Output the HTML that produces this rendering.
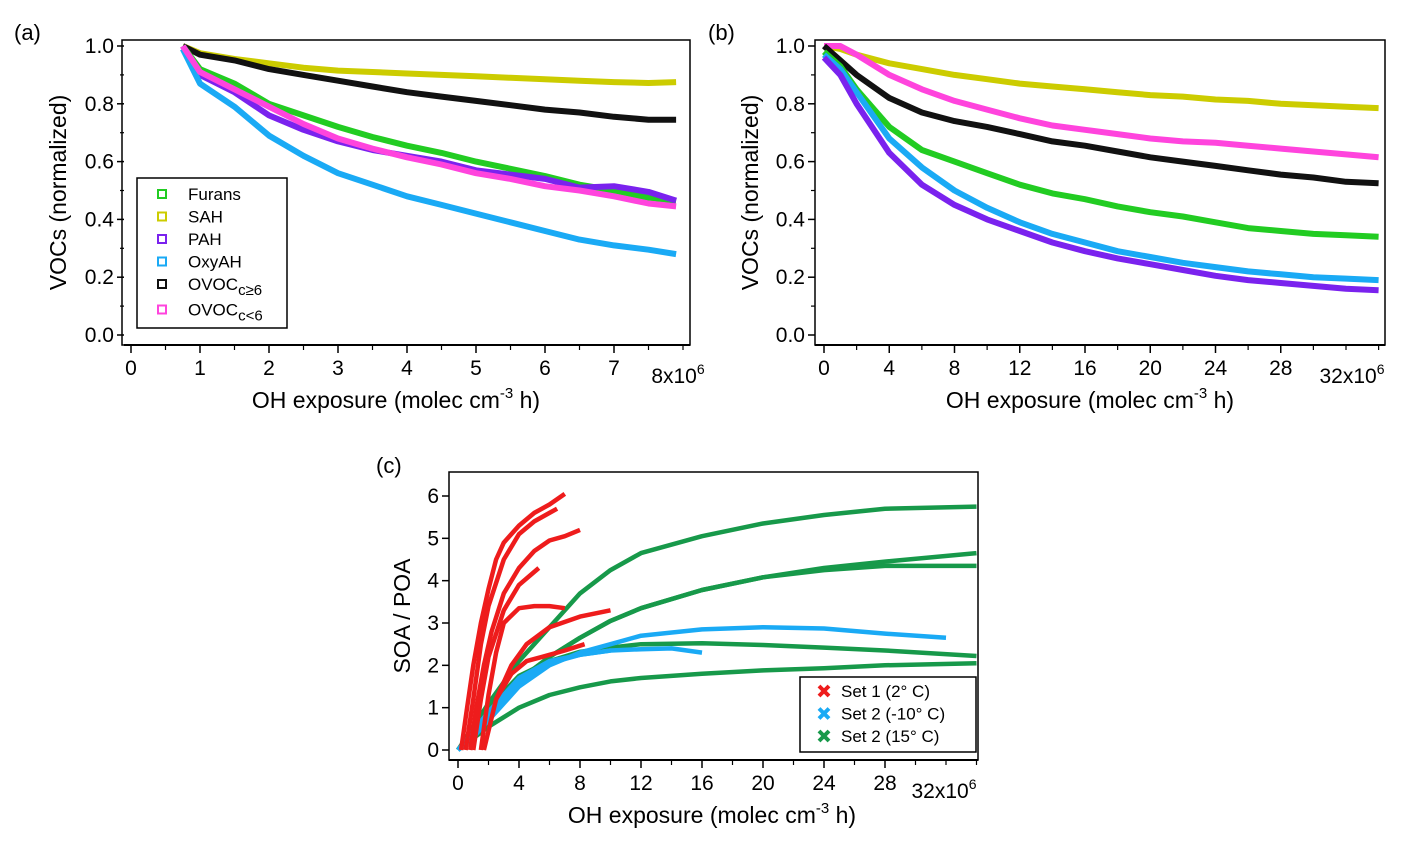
<!DOCTYPE html>
<html><head><meta charset="utf-8">
<style>
html,body{margin:0;padding:0;background:#fff;}
svg{display:block;font-family:"Liberation Sans",sans-serif;}
</style></head>
<body>
<svg id="s" width="1404" height="850" viewBox="0 0 1404 850"></svg>
<script>
// ---- Panel (a) data ----
const aX = [0.75,1,1.5,2,2.5,3,3.5,4,4.5,5,5.5,6,6.5,7,7.5,7.9];
const aFurans = [1,0.92,0.87,0.8,0.76,0.72,0.685,0.655,0.63,0.6,0.575,0.55,0.52,0.5,0.475,0.465];
const aSAH = [1,0.975,0.955,0.94,0.925,0.915,0.91,0.905,0.9,0.895,0.89,0.885,0.88,0.875,0.872,0.875];
const aPAH = [1,0.9,0.84,0.76,0.71,0.67,0.64,0.62,0.6,0.57,0.555,0.54,0.51,0.515,0.495,0.465];
const aOxyAH = [0.99,0.87,0.79,0.69,0.62,0.56,0.52,0.48,0.45,0.42,0.39,0.36,0.33,0.31,0.295,0.28];
const aOVOCge6 = [1,0.97,0.95,0.92,0.9,0.88,0.86,0.84,0.825,0.81,0.795,0.78,0.77,0.755,0.745,0.745];
const aOVOClt6 = [1,0.91,0.85,0.79,0.73,0.68,0.645,0.615,0.59,0.56,0.54,0.515,0.5,0.48,0.455,0.445];
const aXTicks = [0,1,2,3,4,5,6,7];
const yTicksVOC = [0,0.2,0.4,0.6,0.8,1.0];
// ---- Panel (b) data ----
const bX = [0,1,2,4,6,8,10,12,14,16,18,20,22,24,26,28,30,32,34];
const bSAH = [1,0.99,0.97,0.94,0.92,0.9,0.885,0.87,0.86,0.85,0.84,0.83,0.825,0.815,0.81,0.8,0.795,0.79,0.785];
const bOVOClt6 = [1,1,0.97,0.9,0.85,0.81,0.78,0.75,0.725,0.71,0.695,0.68,0.67,0.665,0.655,0.645,0.635,0.625,0.615];
const bOVOCge6 = [1,0.95,0.9,0.82,0.77,0.74,0.72,0.695,0.67,0.655,0.635,0.615,0.6,0.585,0.57,0.555,0.545,0.53,0.525];
const bFurans = [0.98,0.93,0.85,0.72,0.64,0.6,0.56,0.52,0.49,0.47,0.445,0.425,0.41,0.39,0.37,0.36,0.35,0.345,0.34];
const bOxyAH = [0.97,0.92,0.84,0.68,0.58,0.5,0.44,0.39,0.35,0.32,0.29,0.27,0.25,0.235,0.22,0.21,0.2,0.195,0.19];
const bPAH = [0.96,0.9,0.8,0.63,0.52,0.45,0.4,0.36,0.32,0.29,0.265,0.245,0.225,0.205,0.19,0.18,0.17,0.16,0.155];
const bXTicks = [0,4,8,12,16,20,24,28];
// ---- Panel (c) data ----
const cRedX = [[0.2,0.6,1,1.5,2,2.5,3,4,5,6,7],[0.5,1,1.5,2,3,4,5,6,6.5],[0.8,1.2,1.7,2.2,3,4,5,6,7,8],[1,1.5,2,3,4,5.3],[1.5,2,2.5,3,4,5,6,7],[1.7,2.5,3.5,4.5,6,8,10],[2.5,3.5,4.5,5.5,7,8.3]];
const cRedY = [[0,1,2,3,3.8,4.5,4.9,5.3,5.6,5.8,6.05],[0,1.2,2.5,3.4,4.5,5.1,5.4,5.6,5.7],[0,1,2,2.8,3.7,4.3,4.7,4.95,5.05,5.2],[0,1.2,2.2,3.3,3.9,4.3],[0,1.3,2.3,3.0,3.35,3.4,3.4,3.35],[0,1.2,2,2.5,2.9,3.15,3.3],[1.2,1.8,2.1,2.2,2.35,2.5]];
const cGreenX = [[0,1,2,4,6,8,10,12,16,20,24,28,34],[0,2,4,6,8,10,12,16,20,24,28,34],[0,2,4,6,8,10,12,16,20,24,28,34],[0,2,4,6,8,10,12,16,20,24,28,34],[0,2,4,6,8,10,12,16,20,24,28,34]];
const cGreenY = [[0,0.55,1.1,2.1,2.9,3.7,4.25,4.65,5.05,5.35,5.55,5.7,5.75],[0,0.9,1.65,2.2,2.65,3.05,3.35,3.78,4.08,4.3,4.45,4.65],[0,0.9,1.65,2.2,2.65,3.05,3.35,3.78,4.08,4.25,4.35,4.35],[0,1.0,1.75,2.1,2.32,2.42,2.5,2.52,2.48,2.42,2.35,2.22],[0,0.55,1.0,1.3,1.48,1.62,1.7,1.8,1.88,1.93,2.0,2.05]];
const cBlueX = [[0,1,2,4,6,8,10,12,16,20,24,28,32],[0,1,2,4,6,8,10,12,14,16],[0,2,4,6,8,10]];
const cBlueY = [[0,0.3,0.7,1.5,2.0,2.3,2.5,2.7,2.85,2.9,2.87,2.75,2.65],[0,0.35,0.8,1.6,2.05,2.25,2.35,2.38,2.4,2.3],[0,0.9,1.7,2.1,2.25,2.35]];
const cXTicks = [0,4,8,12,16,20,24,28];
const cYTicks = [0,1,2,3,4,5,6];

const NS="http://www.w3.org/2000/svg";
const svg=document.getElementById('s');
function mk(tag,attrs,parent,text){const e=document.createElementNS(NS,tag);for(const k in attrs)e.setAttribute(k,attrs[k]);if(text!==undefined)e.textContent=text;(parent||svg).appendChild(e);return e;}
function lin(d0,d1,r0,r1){return v=>r0+(v-d0)*(r1-r0)/(d1-d0);}
function path(xs,ys,sx,sy){return xs.map((x,i)=>(i?'L':'M')+sx(x).toFixed(1)+','+sy(ys[i]).toFixed(1)).join(' ');}

function panel(o){
  const g=mk('g',{});
  
  
  const f=mk('rect',{x:o.fl,y:o.ft,width:o.fr-o.fl,height:o.fb-o.ft,fill:'none',stroke:'#000','stroke-width':1.5},g);
  
  const xa=mk('line',{x1:o.yax,x2:o.fr,y1:o.fb,y2:o.fb,stroke:'#000','stroke-width':2},g);
  
  o.xt.forEach(t=>{const x=o.sx(t);mk('line',{x1:x,x2:x,y1:o.fb,y2:o.fb+8,stroke:'#000','stroke-width':1.5},g);
    const l=mk('text',{x:x,y:o.fb+30,'font-size':21,'text-anchor':'middle'},g,String(t));
    });
  o.xminor.forEach(t=>{const x=o.sx(t);mk('line',{x1:x,x2:x,y1:o.fb,y2:o.fb+5,stroke:'#000','stroke-width':1.2},g);});
  o.yt.forEach(t=>{const y=o.sy(t);mk('line',{x1:o.yax-7,x2:o.yax,y1:y,y2:y,stroke:'#000','stroke-width':1.5},g);
    const l=mk('text',{x:o.yax-10,y:y+7,'font-size':21,'text-anchor':'end'},g,o.yfmt(t));
    });
  o.yminor.forEach(t=>{const y=o.sy(t);mk('line',{x1:o.yax-4,x2:o.yax,y1:y,y2:y,stroke:'#000','stroke-width':1.2},g);});
  const m=mk('text',{x:o.multX,y:o.fb+38,'font-size':21,'text-anchor':'middle'},g);
  
  m.innerHTML=o.multTxt+'x10<tspan dy="-9" font-size="14">6</tspan>';
  const xt=mk('text',{x:o.xtX,y:o.fb+63,'font-size':23,'text-anchor':'middle'},g);
  
  xt.innerHTML='OH exposure (molec cm<tspan dy="-10" font-size="15">-3</tspan><tspan dy="10"> h)</tspan>';
  const yt=mk('text',{x:o.ytX,y:(o.ft+o.fb)/2,'font-size':23,'text-anchor':'middle',transform:`rotate(-90 ${o.ytX} ${(o.ft+o.fb)/2})`},g,o.ytitle);
  
  const pl=mk('text',{x:o.plX,y:o.plY,'font-size':22},g,o.plabel);
  
  return g;
}

const sxA=lin(0,8,131,683), syA=lin(0,1,335,46);
const gA=panel({name:'panel-a',fl:122,ft:40,fr:690,fb:345,yax:124,sx:sxA,sy:syA,xt:aXTicks,xminor:[0.5,1.5,2.5,3.5,4.5,5.5,6.5,7.5,8],
  yt:yTicksVOC,yminor:[0.1,0.3,0.5,0.7,0.9],yfmt:t=>t.toFixed(1),multX:678,multTxt:'8',xtX:396,ytX:66,ytitle:'VOCs (normalized)',plX:14,plY:40,plabel:'(a)'});
const aSeries=[[aSAH,'#cccc00','sah'],[aOVOCge6,'#111','ovoc-c-ge6'],[aFurans,'#22cc22','furans'],[aPAH,'#7a22ee','pah'],[aOxyAH,'#1aaaf5','oxyah'],[aOVOClt6,'#ff44dd','ovoc-c-lt6']];
aSeries.forEach(s=>{const p=mk('path',{d:path(aX,s[0],sxA,syA),fill:'none',stroke:s[1],'stroke-width':6,'stroke-linejoin':'round'},gA);
  });
const lgA=mk('g',{},gA);
mk('rect',{x:137,y:178,width:150,height:150,fill:'#fff',stroke:'#000','stroke-width':1.5},lgA);
const legA=[['Furans','#22cc22',''],['SAH','#cccc00',''],['PAH','#7a22ee',''],['OxyAH','#1aaaf5',''],['OVOC','#111','c≥6'],['OVOC','#ff44dd','c<6']];
legA.forEach((e,i)=>{const y=194+i*22.5+(i==5?3:0);
  const it=mk('g',{},lgA);
  mk('rect',{x:158,y:y-4,width:8,height:8,fill:'none',stroke:e[1],'stroke-width':2},it);
  const t=mk('text',{x:188,y:y+6,'font-size':17},it);
  t.innerHTML=e[0]+(e[2]?'<tspan dy="5" font-size="15">'+e[2].replace('<','&lt;')+'</tspan>':'');});

const sxB=lin(0,32,824,1346), syB=lin(0,1,335,46);
const gB=panel({name:'panel-b',fl:815,ft:40,fr:1385,fb:345,yax:815,sx:sxB,sy:syB,xt:bXTicks,xminor:[2,6,10,14,18,22,26,30,32,34],
  yt:yTicksVOC,yminor:[0.1,0.3,0.5,0.7,0.9],yfmt:t=>t.toFixed(1),multX:1352,multTxt:'32',xtX:1090,ytX:758,ytitle:'VOCs (normalized)',plX:708,plY:40,plabel:'(b)'});
const bSeries=[[bSAH,'#cccc00','sah'],[bOVOClt6,'#ff44dd','ovoc-c-lt6'],[bOVOCge6,'#111','ovoc-c-ge6'],[bFurans,'#22cc22','furans'],[bOxyAH,'#1aaaf5','oxyah'],[bPAH,'#7a22ee','pah']];
bSeries.forEach(s=>{const p=mk('path',{d:path(bX,s[0],sxB,syB),fill:'none',stroke:s[1],'stroke-width':6,'stroke-linejoin':'round'},gB);
  });

const sxC=lin(0,32,458,946), syC=lin(0,6,750,496);
const gC=panel({name:'panel-c',fl:449,ft:472,fr:978,fb:760,yax:449,sx:sxC,sy:syC,xt:cXTicks,xminor:[2,6,10,14,18,22,26,30,32,34],
  yt:cYTicks,yminor:[],yfmt:t=>String(t),multX:944,multTxt:'32',xtX:712,ytX:410,ytitle:'SOA / POA',plX:376,plY:473,plabel:'(c)'});
function drawSet(X,Y,col,nm,w){X.forEach((xs,i)=>{const p=mk('path',{d:path(xs,Y[i],sxC,syC),fill:'none',stroke:col,'stroke-width':w,'stroke-linejoin':'round'},gC);
  });}
drawSet(cGreenX,cGreenY,'#17994a','set2-15c',4.5);
drawSet(cBlueX,cBlueY,'#1aaaf5','set2-m10c',4.5);
drawSet(cRedX,cRedY,'#ee1c1c','set1-2c',4.5);
const lgC=mk('g',{},gC);
mk('rect',{x:800,y:677,width:176,height:75,fill:'#fff',stroke:'#000','stroke-width':1.5},lgC);
[['Set 1 (2° C)','#ee1c1c'],['Set 2 (-10° C)','#1aaaf5'],['Set 2 (15° C)','#17994a']].forEach((e,i)=>{const y=691+i*22.5;
  const it=mk('g',{},lgC);
  mk('path',{d:`M${819},${y-5} l10,10 M${829},${y-5} l-10,10`,stroke:e[1],'stroke-width':4},it);
  mk('text',{x:841,y:y+6,'font-size':17},it,e[0]);});
</script>
</body></html>
